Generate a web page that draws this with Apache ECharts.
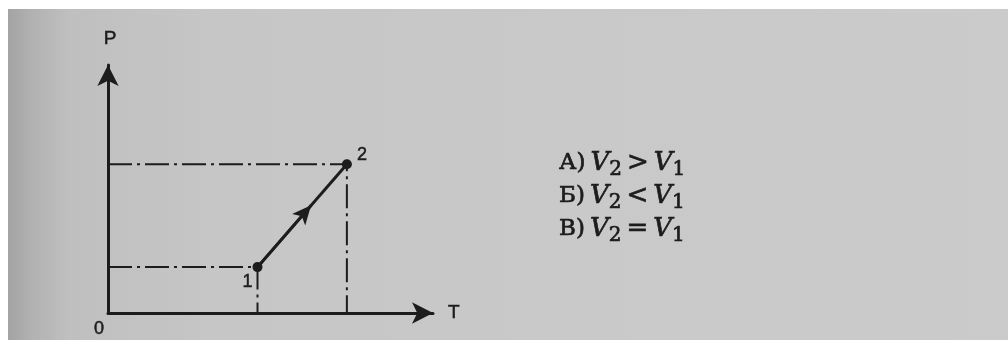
<!DOCTYPE html>
<html>
<head>
<meta charset="utf-8">
<script src="https://cdn.jsdelivr.net/npm/echarts@6/dist/echarts.min.js"></script>
<style>
  html, body { margin: 0; padding: 0; background: #fff; }
  #paper {
    position: absolute; left: 8px; top: 9px; right: 0; bottom: 0;
    background: linear-gradient(to right, #a3a3a3 0px, #b2b2b2 25px, #bfbfbf 60px, #c6c6c6 200px, #c9c9c9 600px, #cbcbcb 100%);
  }
  #chart { position: absolute; left: 0; top: 0; width: 1008px; height: 340px; }
</style>
</head>
<body>
<div id="paper"></div>
<div id="chart"></div>
<script>
// состояния газа: температура и давление (условные единицы)
const stateNames = ['1', '2'];
const T = [4.6, 7.35];
const P = [1.85, 6.0];
// подпись начала координат
const tickLabels = ['0'];
// варианты ответа
const answers = [
  ['А)', '>'],
  ['Б)', '<'],
  ['В)', '=']
];

const ink = '#1c1c1c';
const chart = echarts.init(document.getElementById('chart'));

// штрихпунктирные линии от осей к точкам
const guideSeries = T.map((t, i) => ({
  type: 'line',
  data: [[0, P[i]], [t, P[i]], [t, 0]],
  symbol: 'none',
  silent: true,
  lineStyle: { color: ink, width: 2, type: [24, 5, 3, 5] },
  z: 1
}));

const labelOffsets = [[-10, -4], [0, -9]];
const labelPositions = ['bottom', 'right'];

const answerText = answers.map(a =>
  '{u|' + a[0] + '} {v|V}{s|2} {o|' + a[1] + '} {v|V}{s|1}'
).join('\n');

// стрелка направления процесса чуть дальше середины отрезка
const k = 0.6;

const serif = 'DejaVu Serif';
const sans = 'Liberation Sans';
// лёгкая обводка делает шрифт плотнее, как на скане
const heavy = { color: ink, fontWeight: 'normal', textBorderColor: ink, textBorderWidth: 0.7 };
const thick = { color: ink, textBorderColor: ink, textBorderWidth: 0.5 };

chart.setOption({
  animation: false,
  grid: { left: 108, right: 575, top: 65, bottom: 27 },
  title: {
    left: 554,
    top: 142,
    text: answerText,
    textStyle: {
      fontWeight: 'normal',
      rich: {
        u: { ...heavy, fontFamily: serif, fontSize: 23, lineHeight: 33 },
        o: { ...heavy, fontFamily: serif, fontSize: 26, lineHeight: 33 },
        v: { ...heavy, fontFamily: serif, fontStyle: 'italic', fontSize: 26, lineHeight: 33 },
        s: { ...heavy, fontFamily: serif, fontSize: 20, lineHeight: 10, verticalAlign: 'bottom' }
      }
    }
  },
  xAxis: {
    type: 'value',
    min: 0,
    max: 10,
    interval: 10,
    name: 'T',
    nameLocation: 'end',
    nameGap: 15,
    nameTextStyle: { ...thick, fontFamily: sans, fontSize: 19, verticalAlign: 'middle', padding: [0, 0, 8, 0] },
    splitLine: { show: false },
    axisTick: { show: false },
    axisLine: {
      symbol: ['none', 'arrow'],
      symbolSize: [16, 21],
      lineStyle: { color: ink, width: 3 }
    },
    axisLabel: {
      ...thick,
      fontFamily: sans,
      fontSize: 18,
      align: 'right',
      margin: 7,
      padding: [0, 4, 0, 0],
      formatter: v => (v === 0 ? tickLabels[0] : '')
    }
  },
  yAxis: {
    type: 'value',
    min: 0,
    max: 10,
    interval: 10,
    name: 'P',
    nameLocation: 'end',
    nameGap: 17,
    nameTextStyle: { ...thick, fontFamily: sans, fontSize: 19, padding: [0, 0, 0, 4] },
    splitLine: { show: false },
    axisTick: { show: false },
    axisLabel: { show: false },
    axisLine: {
      symbol: ['none', 'arrow'],
      symbolSize: [16, 21],
      lineStyle: { color: ink, width: 3 }
    }
  },
  series: [
    ...guideSeries,
    {
      type: 'line',
      z: 3,
      data: T.map((t, i) => ({
        value: [t, P[i]],
        label: {
          ...thick,
          show: true,
          formatter: stateNames[i],
          position: labelPositions[i],
          offset: labelOffsets[i],
          fontFamily: sans,
          fontSize: 18
        }
      })),
      symbol: 'circle',
      symbolSize: 10,
      itemStyle: { color: ink },
      lineStyle: { color: ink, width: 3 },
      markLine: {
        silent: true,
        symbol: ['none', 'arrow'],
        symbolSize: [13, 19],
        label: { show: false },
        lineStyle: { color: ink, width: 3, type: 'solid' },
        data: [[
          { coord: [T[0], P[0]] },
          { coord: [T[0] + (T[1] - T[0]) * k, P[0] + (P[1] - P[0]) * k] }
        ]]
      }
    }
  ]
});
</script>
</body>
</html>
